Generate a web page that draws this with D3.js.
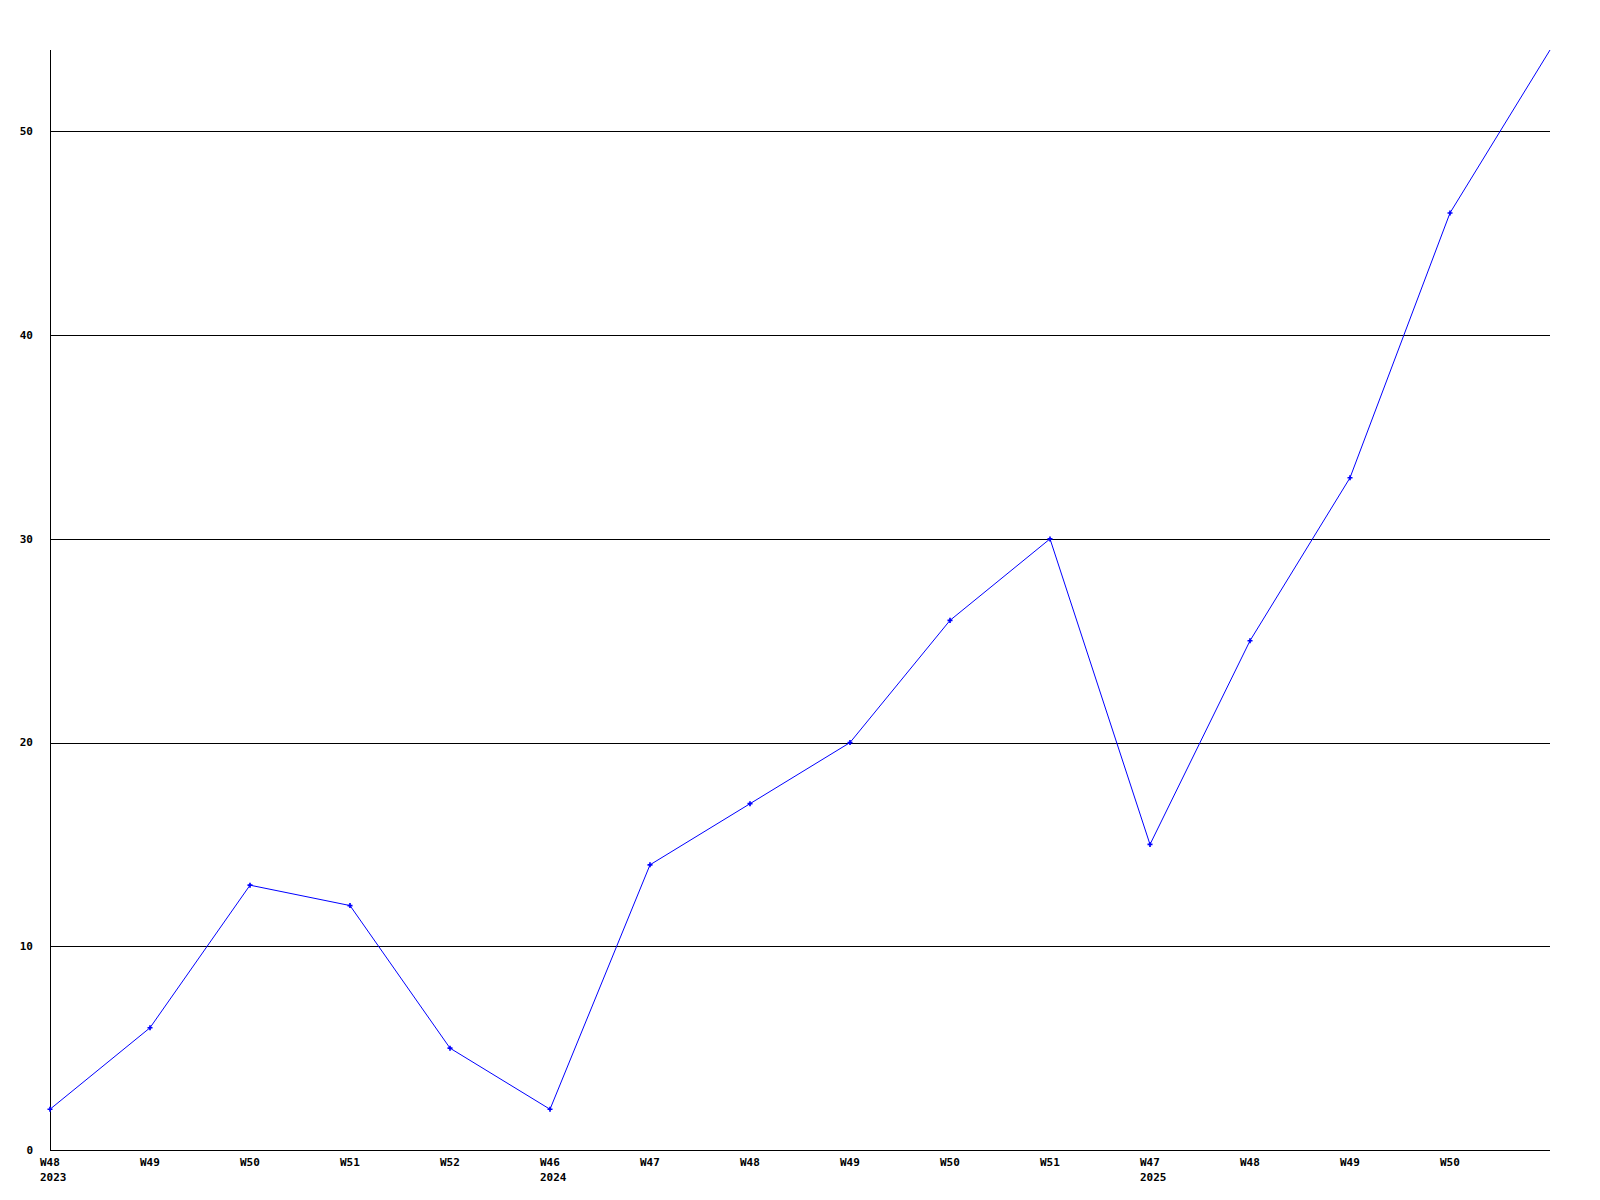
<!DOCTYPE html>
<html>
<head>
<meta charset="utf-8">
<script src="https://cdn.jsdelivr.net/npm/d3@7"></script>
<style>
  body { margin: 0; background: #fff; }
  text { font-family: "DejaVu Sans Mono", monospace; font-weight: bold; font-size: 11px; fill: #000; }
</style>
</head>
<body>
<div id="chart"></div>
<script>
// week labels along the bottom, year shown under the first week of each run
var weeks = ['W48', 'W49', 'W50', 'W51', 'W52', 'W46', 'W47', 'W48', 'W49', 'W50', 'W51', 'W47', 'W48', 'W49', 'W50', ''];
var years = ['2023', '', '', '', '', '2024', '', '', '', '', '', '2025', '', '', '', ''];
var values = [2, 6, 13, 12, 5, 2, 14, 17, 20, 26, 30, 15, 25, 33, 46, 54];
var yTicks = [0, 10, 20, 30, 40, 50];
var yMax = 54;

var width = 1600,
    height = 1200,
    plotLeft = 50, plotRight = 1550, plotTop = 50, plotBottom = 1150;

var svg = d3.select('#chart').append('svg')
    .attr('width', width)
    .attr('height', height);

var x = d3.scaleLinear()
    .domain([0, values.length - 1])
    .range([plotLeft, plotRight]);

var y = d3.scaleLinear()
    .domain([0, yMax])
    .range([plotBottom, plotTop]);

//gridlines
svg.selectAll('.grid')
    .data(yTicks.filter(function(d){ return d > 0; }))
  .enter().append('line')
    .attr('x1', plotLeft)
    .attr('x2', plotRight)
    .attr('y1', function(d){ return Math.round(y(d)) + 0.5; })
    .attr('y2', function(d){ return Math.round(y(d)) + 0.5; })
    .attr('stroke', '#000')
    .attr('shape-rendering', 'crispEdges');

//axes lines
svg.append('line')
    .attr('x1', plotLeft + 0.5).attr('x2', plotLeft + 0.5)
    .attr('y1', plotTop).attr('y2', plotBottom)
    .attr('stroke', '#000')
    .attr('shape-rendering', 'crispEdges');

svg.append('line')
    .attr('x1', plotLeft).attr('x2', plotRight)
    .attr('y1', plotBottom + 0.5).attr('y2', plotBottom + 0.5)
    .attr('stroke', '#000')
    .attr('shape-rendering', 'crispEdges');

//y labels
svg.selectAll('.ylabel')
    .data(yTicks)
  .enter().append('text')
    .attr('x', 33)
    .attr('y', function(d){ return y(d); })
    .attr('dy', '0.35em')
    .attr('text-anchor', 'end')
    .text(function(d){ return d; });

//x labels
svg.selectAll('.xlabel')
    .data(weeks)
  .enter().append('text')
    .attr('x', function(d, i){ return x(i) - 10; })
    .attr('y', 1166)
    .text(function(d){ return d; });

svg.selectAll('.yearlabel')
    .data(years)
  .enter().append('text')
    .attr('x', function(d, i){ return x(i) - 10; })
    .attr('y', 1181)
    .text(function(d){ return d; });

//series line
var line = d3.line()
    .x(function(d, i){ return x(i); })
    .y(function(d){ return y(d); });

svg.append('path')
    .datum(values)
    .attr('d', line)
    .attr('fill', 'none')
    .attr('stroke', '#0000ff')
    .attr('stroke-width', 1);

//markers (last point sits on the frame edge, no marker there)
var marker = d3.symbol().type(d3.symbolCross).size(14);
svg.selectAll('.marker')
    .data(values.slice(0, values.length - 1))
  .enter().append('path')
    .attr('d', marker)
    .attr('transform', function(d, i){ return 'translate(' + x(i) + ',' + y(d) + ')'; })
    .attr('fill', '#0000ff');
</script>
</body>
</html>
